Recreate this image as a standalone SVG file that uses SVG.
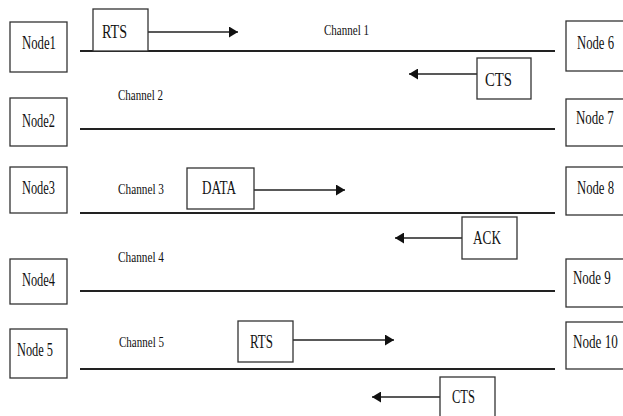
<svg xmlns="http://www.w3.org/2000/svg" width="623" height="416" viewBox="0 0 623 416">
<defs>
<marker id="ah" markerUnits="userSpaceOnUse" markerWidth="10" markerHeight="11" refX="9" refY="5.5" orient="auto">
<path d="M0,0 L9,5.5 L0,11 Z" fill="#111"/>
</marker>
<style>
.box{fill:#fff;stroke:#333;stroke-width:1.3}
.t{font-family:"Liberation Serif","Times New Roman",serif;fill:#111}
.n{font-size:18px}
.p{font-size:18px}
.c{font-size:15px}
.ch{stroke:#222;stroke-width:1.8;fill:none}
.ar{stroke:#222;stroke-width:1.6;fill:none;marker-end:url(#ah)}
</style>
</defs>
<rect width="623" height="416" fill="#fff"/>
<g id="connectors">
<line class="ch" x1="80" y1="51" x2="555" y2="51"/>
<line class="ch" x1="80" y1="129" x2="555" y2="129"/>
<line class="ch" x1="80" y1="213" x2="555" y2="213"/>
<line class="ch" x1="80" y1="291" x2="555" y2="291"/>
<line class="ch" x1="80" y1="369" x2="555" y2="369"/>
<line class="ar" x1="148" y1="32" x2="238" y2="32"/>
<line class="ar" x1="477" y1="74" x2="409" y2="74"/>
<line class="ar" x1="254" y1="190" x2="345" y2="190"/>
<line class="ar" x1="462" y1="238" x2="395" y2="238"/>
<line class="ar" x1="293" y1="340" x2="394" y2="340"/>
<line class="ar" x1="440" y1="397" x2="372" y2="397"/>
</g>
<g id="channel-labels">
<text class="t c" x="324" y="35" textLength="45" lengthAdjust="spacingAndGlyphs">Channel 1</text>
<text class="t c" x="118" y="100" textLength="45" lengthAdjust="spacingAndGlyphs">Channel 2</text>
<text class="t c" x="118" y="194" textLength="46" lengthAdjust="spacingAndGlyphs">Channel 3</text>
<text class="t c" x="118" y="262" textLength="46" lengthAdjust="spacingAndGlyphs">Channel 4</text>
<text class="t c" x="119" y="347" textLength="45" lengthAdjust="spacingAndGlyphs">Channel 5</text>
</g>
<g id="node1"><rect class="box" x="10" y="22" width="57" height="50"/><text class="t n" x="22" y="49" textLength="34" lengthAdjust="spacingAndGlyphs">Node1</text></g>
<g id="node2"><rect class="box" x="10" y="98" width="57" height="48"/><text class="t n" x="22" y="127" textLength="33" lengthAdjust="spacingAndGlyphs">Node2</text></g>
<g id="node3"><rect class="box" x="10" y="167" width="57" height="46"/><text class="t n" x="22" y="194" textLength="33" lengthAdjust="spacingAndGlyphs">Node3</text></g>
<g id="node4"><rect class="box" x="10" y="259" width="57" height="45"/><text class="t n" x="22" y="286" textLength="33" lengthAdjust="spacingAndGlyphs">Node4</text></g>
<g id="node5"><rect class="box" x="10" y="329" width="57" height="49"/><text class="t n" x="17" y="356" textLength="36" lengthAdjust="spacingAndGlyphs">Node 5</text></g>
<g id="node6"><rect class="box" x="566" y="21" width="58" height="50"/><text class="t n" transform="translate(577,49) scale(0.705,1)">Node 6</text></g>
<g id="node7"><rect class="box" x="566" y="99" width="58" height="47"/><text class="t n" transform="translate(576,124) scale(0.72,1)">Node 7</text></g>
<g id="node8"><rect class="box" x="566" y="167" width="58" height="48"/><text class="t n" transform="translate(577,194) scale(0.705,1)">Node 8</text></g>
<g id="node9"><rect class="box" x="566" y="259" width="58" height="48"/><text class="t n" transform="translate(573,284) scale(0.72,1)">Node 9</text></g>
<g id="node10"><rect class="box" x="566" y="322" width="58" height="47"/><text class="t n" transform="translate(573,348) scale(0.73,1)">Node 10</text></g>
<g id="rts1"><rect class="box" x="93" y="9" width="55" height="42"/><text class="t p" x="102" y="38" textLength="25" lengthAdjust="spacingAndGlyphs">RTS</text></g>
<g id="cts1"><rect class="box" x="477" y="58" width="54" height="41"/><text class="t p" x="485" y="86" textLength="27" lengthAdjust="spacingAndGlyphs">CTS</text></g>
<g id="data"><rect class="box" x="187" y="168" width="67" height="41"/><text class="t p" x="202" y="194" textLength="34" lengthAdjust="spacingAndGlyphs">DATA</text></g>
<g id="ack"><rect class="box" x="462" y="217" width="55" height="42"/><text class="t p" x="473" y="244" textLength="28" lengthAdjust="spacingAndGlyphs">ACK</text></g>
<g id="rts2"><rect class="box" x="238" y="321" width="55" height="41"/><text class="t p" x="250" y="348" textLength="23" lengthAdjust="spacingAndGlyphs">RTS</text></g>
<g id="cts2"><rect class="box" x="440" y="377" width="55" height="50"/><text class="t p" x="452" y="403" textLength="23" lengthAdjust="spacingAndGlyphs">CTS</text></g>
</svg>
